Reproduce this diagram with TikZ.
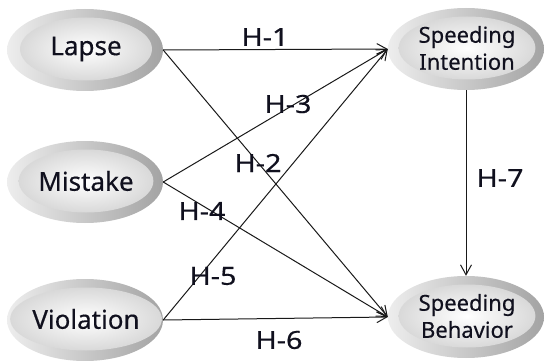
\documentclass[tikz,border=0pt]{standalone}
\usepackage{fontspec}
\setmainfont{Noto Sans}[FakeBold=0.4,AutoFakeBold=0.4]
\newfontfamily\nodefont{Noto Sans}[FakeBold=0.4]
\newfontfamily\labelfont{Noto Sans}[FakeStretch=1.15,FakeBold=0.4]
\usetikzlibrary{shapes.geometric,arrows.meta}
\definecolor{inkblue}{HTML}{10101E}
\begin{document}
\begin{tikzpicture}[x=1pt,y=-1pt,
  rim/.style={ellipse, minimum width=156pt, minimum height=82pt, inner sep=0pt,
    left color=gray!14, right color=gray!72},
  core/.style={ellipse, minimum width=132pt, minimum height=63pt, inner sep=0pt,
    inner color=white, outer color=gray!30, align=center, text=inkblue},
  big/.style={font=\nodefont\fontsize{26}{30}\selectfont},
  small/.style={font=\nodefont\fontsize{22}{27}\selectfont},
  link/.style={-{Straight Barb[length=10pt,width=11pt]}, line width=1pt, draw=black!90},
  hyp/.style={font=\labelfont\fontsize{25}{28}\selectfont, text=inkblue}
]
\useasboundingbox (0,0) rectangle (544,361);

% outer rims
\node[rim] (lapse)   at (85,50)  {};
\node[rim] (mistake) at (85,182) {};
\node[rim] (viol)    at (85,320) {};
\node[rim] (intent)  at (466,49) {};
\node[rim] (behav)   at (466,317) {};

% inner faces with the labels
\node[core,big]   (lapseT)   at (86,49)  {Lapse};
\node[core,big]   (mistakeT) at (86,181) {Mistake};
\node[core,big]   (violT)    at (86,319) {Violation};
\node[core,small] (intentT)  at (467,48) {Speeding\\Intention};
\node[core,small] (behavT)   at (467,316) {Speeding\\Behavior};

% hypothesised paths
\draw[link] (lapse.east)   -- (intent.west);
\draw[link] (lapse.east)   -- (behav.west);
\draw[link] (mistake.east) -- (intent.west);
\draw[link] (mistake.east) -- (behav.west);
\draw[link] (viol.east)    -- (intent.west);
\draw[link] (viol.east)    -- (behav.west);
\draw[link] (intent.south) -- (behav.north);

% path labels
\node[hyp] (h1) at (265,37)  {H-1};
\node[hyp] (h2) at (258,163) {H-2};
\node[hyp] (h3) at (288,104) {H-3};
\node[hyp] (h4) at (202,211) {H-4};
\node[hyp] (h5) at (213,276) {H-5};
\node[hyp] (h6) at (279,340) {H-6};
\node[hyp] (h7) at (500,178) {H-7};
\end{tikzpicture}
\end{document}
